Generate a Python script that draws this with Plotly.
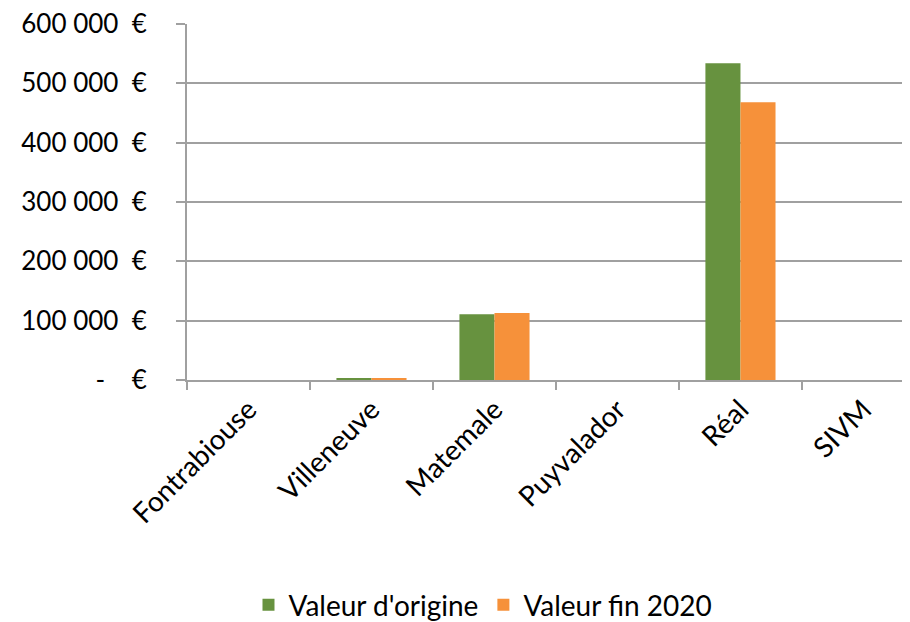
import plotly.graph_objects as go

# communes et valeurs (en euros)
communes = ['Fontrabiouse', 'Villeneuve', 'Matemale', 'Puyvalador', 'Réal', 'SIVM']
valeur_origine = [0, 3500, 111000, 0, 534000, 0]
valeur_2020 = [0, 3000, 113000, 0, 468000, 0]

y_ticks = [0, 100000, 200000, 300000, 400000, 500000, 600000]
y_labels = ['-\u00a0\u00a0\u00a0\u00a0€', '100 000\u00a0\u00a0€', '200 000\u00a0\u00a0€',
            '300 000\u00a0\u00a0€', '400 000\u00a0\u00a0€', '500 000\u00a0\u00a0€',
            '600 000\u00a0\u00a0€']

gris = '#a0a0a0'
police = dict(family='Lato, Open Sans, sans-serif', size=28, color='black')

fig = go.Figure()
fig.add_trace(go.Bar(x=communes, y=valeur_origine, name="Valeur d'origine",
                     marker=dict(color='#67923f', line=dict(width=0))))
fig.add_trace(go.Bar(x=communes, y=valeur_2020, name='Valeur fin 2020',
                     marker=dict(color='#f6913a', line=dict(width=0))))

# la page html ajoute 8px de marge autour du graphique
fig.update_layout(
    width=902, height=614,
    margin=dict(l=179, r=3, t=16, b=242),
    plot_bgcolor='white', paper_bgcolor='white',
    font=police,
    barmode='group', bargap=0.43, bargroupgap=0,
    showlegend=True,
    legend=dict(orientation='h', xref='container', yref='container',
                x=0.5266, xanchor='center', y=0.0277, yanchor='middle',
                font=police, traceorder='normal'),
)
fig.update_xaxes(
    range=[-0.5, 5.354], tickangle=-45, tickson='boundaries', automargin=False,
    ticks='outside', ticklen=8, tickwidth=2, tickcolor=gris,
    showline=True, linecolor=gris, linewidth=2, showgrid=False,
    tickfont=police,
)
fig.update_yaxes(
    range=[0, 600000], tickvals=y_ticks, ticktext=y_labels, automargin=False,
    ticks='outside', ticklen=9, tickwidth=2, tickcolor=gris, ticklabelstandoff=24,
    ticklabeloverflow='allow',
    showline=True, linecolor=gris, linewidth=2,
    showgrid=True, gridcolor=gris, gridwidth=2, zeroline=False,
    tickfont=dict(family='Lato, Open Sans, sans-serif', size=26, color='black'),
)

fig.write_html('out.html')
